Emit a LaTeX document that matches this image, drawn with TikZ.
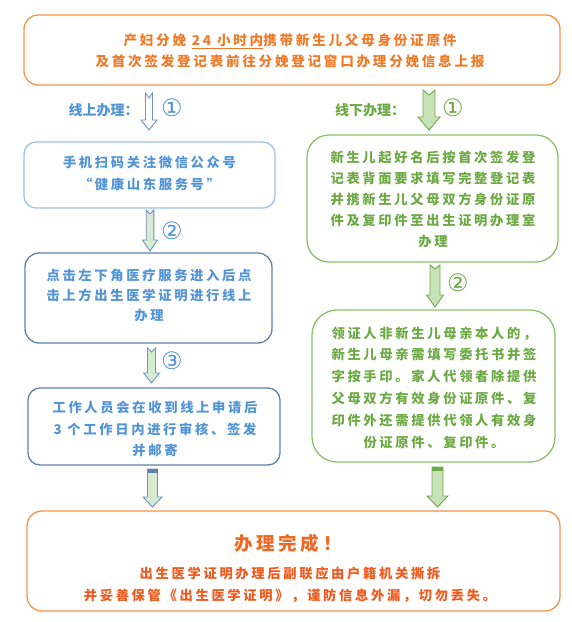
\documentclass[tikz,border=0pt]{standalone}
\usepackage{fontspec}
\newfontfamily\cjk{Noto Sans CJK SC}[LetterSpace=20]
\newfontfamily\cjkn{Noto Sans CJK SC}
\newfontfamily\circfont{DejaVu Sans}
\definecolor{orangeB}{HTML}{F2944A}
\definecolor{orangeT}{HTML}{EF7A2A}
\definecolor{blueT}{HTML}{5294D6}
\definecolor{blueB1}{HTML}{9CC2E5}
\definecolor{blueB2}{HTML}{5E81AC}
\definecolor{greenT}{HTML}{6DAA45}
\definecolor{greenB}{HTML}{8CC068}
\definecolor{greenF}{HTML}{C8E2B8}
\definecolor{arrowF}{HTML}{D7EBD2}
\definecolor{arrowD}{HTML}{7094BF}
\definecolor{redT}{HTML}{F05A1E}
\definecolor{finT}{HTML}{EE6A24}
\newcommand\blockarrow[8]{%
  \path[#8] (#1-#5,#2) -- (#1,#2+#7) -- (#1+#5,#2) -- (#1+#5,#3) -- (#1+#6,#3)
    -- (#1,#4) -- (#1-#6,#3) -- (#1-#5,#3) -- cycle;}
\begin{document}
\begin{tikzpicture}[x=1pt,y=-1pt,
  box/.style={draw, line width=1.3pt, rounded corners=#1, inner sep=0pt},
  txt/.style={align=center, inner sep=0pt, font=\cjk\bfseries\fontsize{13.3}{21.5}\selectfont},
  lbl/.style={inner sep=0pt, font=\cjkn\bfseries\fontsize{14}{16}\selectfont},
  num/.style={inner sep=0pt, font=\circfont\fontsize{24}{26}\selectfont}]
\useasboundingbox (0,0) rectangle (572,622);
% boxes
\node[box=14, orangeB, minimum width=536pt, minimum height=70pt] (top) at (292,50) {};
\node[txt, orangeT, font=\cjk\bfseries\fontsize{13.6}{21.5}\selectfont] (toptxt) at (290,51)
  {产妇分娩 \underline{24 小时内}携带新生儿父母身份证原件\\及首次签发登记表前往分娩登记窗口办理分娩信息上报};
\node[box=12, blueB1, minimum width=251pt, minimum height=66pt] (L1) at (149.5,175) {};
\node[txt, blueT] (L1t) at (149.5,173.5) {手机扫码关注微信公众号\\“健康山东服务号”};
\node[box=14, blueB2, minimum width=247pt, minimum height=90pt] (L2) at (148.5,298) {};
\node[txt, blueT, font=\cjk\bfseries\fontsize{13.3}{20}\selectfont] (L2t) at (149,295) {点击左下角医疗服务进入后点\\击上方出生医学证明进行线上\\办理};
\node[box=12, blueB2, minimum width=252pt, minimum height=77pt] (L3) at (154,426.5) {};
\node[txt, blueT] (L3t) at (155,429) {工作人员会在收到线上申请后\\3 个工作日内进行审核、签发\\并邮寄};
\node[box=22, greenB, minimum width=251pt, minimum height=127pt] (R1) at (432.5,198.5) {};
\node[txt, greenT, font=\cjk\bfseries\fontsize{13.3}{21.2}\selectfont] (R1t) at (433,199.5) {新生儿起好名后按首次签发登\\记表背面要求填写完整登记表\\并携新生儿父母双方身份证原\\件及复印件至出生证明办理室\\办理};
\node[box=25, greenB, minimum width=243pt, minimum height=152pt] (R2) at (433.5,386) {};
\node[txt, greenT, font=\cjk\bfseries\fontsize{13.3}{21.8}\selectfont] (R2t) at (434,387.5) {领证人非新生儿母亲本人的，\\新生儿母亲需填写委托书并签\\字按手印。家人代领者除提供\\父母双方有效身份证原件、复\\印件外还需提供代领人有效身\\份证原件、复印件。};
\node[box=15, orangeB, minimum width=533pt, minimum height=100pt] (fin) at (293.5,561) {};
\node[txt, finT, font=\cjk\bfseries\fontsize{18.5}{22}\selectfont] (fin1) at (288,543) {办理完成！};
\node[txt, redT, font=\cjk\bfseries\fontsize{13.3}{22}\selectfont] (fin2) at (290,584.5) {出生医学证明办理后副联应由户籍机关撕拆\\并妥善保管《出生医学证明》，谨防信息外漏，切勿丢失。};
% labels
\node[lbl, blueT] (onl) at (103.5,110) {线上办理：};
\node[lbl, greenT] (offl) at (370,110) {线下办理：};
\node[num, blueT] (n1l) at (172,107.5) {①};
\node[num, greenT] (n1r) at (453,107.5) {①};
\node[num, blueT] (n2l) at (172,231) {②};
\node[num, blueT] (n3l) at (172,361) {③};
\node[num, greenT] (n2r) at (458,283) {②};
% arrows
\blockarrow{149}{93}{120}{130}{3.5}{8}{5}{draw=arrowD, fill=white, line width=0.9pt}
\blockarrow{429}{90}{117}{130}{6}{11}{5}{draw=greenT, fill=greenF, line width=0.9pt}
\blockarrow{150}{210}{240}{251}{3.8}{7.5}{4}{draw=arrowD, fill=arrowF, line width=0.9pt}
\blockarrow{151.5}{348}{373}{383}{4}{8}{4}{draw=arrowD, fill=arrowF, line width=0.9pt}
\blockarrow{435}{265}{295}{307}{5}{8.5}{4}{draw=greenT, fill=greenF, line width=0.9pt}
\blockarrow{152.5}{469}{497}{507}{5}{9.5}{0}{draw=arrowD, fill=arrowF, line width=0.9pt}
\fill[blueB2] (147.5,469) rectangle (157.5,473);
\blockarrow{437.5}{467}{496}{507}{5.5}{10.5}{0}{draw=greenT, fill=greenF, line width=0.9pt}
\fill[greenT] (432,467) rectangle (443,471);
\end{tikzpicture}
\end{document}
